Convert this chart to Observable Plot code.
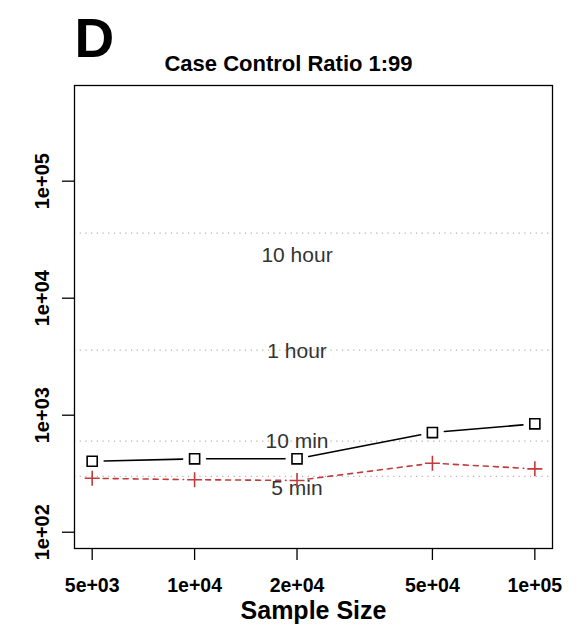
<!DOCTYPE html>
<html>
<head>
<meta charset="utf-8">
<script src="https://cdn.jsdelivr.net/npm/d3@7"></script>
<script src="https://cdn.jsdelivr.net/npm/@observablehq/plot@0.6"></script>
<style>
  html, body { margin: 0; padding: 0; background: #fff; }
  #chart svg { display: block; }
</style>
</head>
<body>
<div id="chart"></div>
<script>
// ---- data ----
const panelLetter = "D";
const title = "Case Control Ratio 1:99";
const xLabel = "Sample Size";
const sampleSize = [5000, 10000, 20000, 50000, 100000];
const seriesSquare = [404, 424, 424, 711, 844];   // black squares, solid line
const seriesPlus = [289, 281, 277, 389, 348];     // red pluses, dashed line
const xTickValues = [5000, 10000, 20000, 50000, 100000];
const xTickLabels = ["5e+03", "1e+04", "2e+04", "5e+04", "1e+05"];
const yTickValues = [1e2, 1e3, 1e4, 1e5];
const yTickLabels = ["1e+02", "1e+03", "1e+04", "1e+05"];
const refTimes = [36000, 3600, 600, 300];
const refLabels = ["10 hour", "1 hour", "10 min", "5 min"];
const refLabelY = [23500, 3500, 600, 236];
const refLabelX = 20000;

// ---- derived tables ----
const pts = (ys) => sampleSize.map((x, i) => ({x, y: ys[i]}));
const segs = (ys) => sampleSize.slice(1).map((x, i) => ({x1: sampleSize[i], y1: ys[i], x2: x, y2: ys[i + 1]}));
const refs = refTimes.map((t, i) => ({t, label: refLabels[i], ly: refLabelY[i]}));
const xLabelMap = new Map(xTickValues.map((v, i) => [v, xTickLabels[i]]));
const yLabelMap = new Map(yTickValues.map((v, i) => [v, yTickLabels[i]]));
const fmt = (m) => (d) => m.get(d) ?? m.get(+(+d).toPrecision(6)) ?? "";

const squareSym = {draw(ctx, size) { const s = Math.sqrt(size / Math.PI) * 0.9; ctx.rect(-s, -s, 2 * s, 2 * s); }};
const plusSym = {draw(ctx, size) { const h = Math.sqrt(size / Math.PI); ctx.moveTo(-h, 0); ctx.lineTo(h, 0); ctx.moveTo(0, -h); ctx.lineTo(0, h); }};

const red = "#c23b3b";
const font = "'Liberation Sans', Arial, Helvetica, sans-serif";

const chart = Plot.plot({
  width: 587,
  height: 628,
  marginLeft: 74,
  marginRight: 35,
  marginTop: 85,
  marginBottom: 80,
  style: {fontFamily: font, background: "#fff", color: "#000"},
  x: {type: "log", domain: [4436, 112700]},
  y: {type: "log", domain: [72.6, 657000]},
  marks: [
    Plot.ruleY(refs, {y: "t", stroke: "#b0b0b0", strokeWidth: 1.2, strokeDasharray: "1.2,4.5"}),
    Plot.text(refs, {x: () => refLabelX, y: "ly", text: "label", fontSize: 21, fill: "#333", lineAnchor: "middle"}),
    Plot.arrow(segs(seriesSquare), {x1: "x1", y1: "y1", x2: "x2", y2: "y2", headLength: 0, insetStart: 12, insetEnd: 12, stroke: "#000", strokeWidth: 1.6}),
    Plot.arrow(segs(seriesPlus), {x1: "x1", y1: "y1", x2: "x2", y2: "y2", headLength: 0, insetStart: 11, insetEnd: 11, stroke: red, strokeWidth: 1.6, strokeDasharray: "5,5"}),
    Plot.dot(pts(seriesSquare), {x: "x", y: "y", symbol: squareSym, r: 5.6, stroke: "#000", strokeWidth: 1.6, fill: "#fff"}),
    Plot.dot(pts(seriesPlus), {x: "x", y: "y", symbol: plusSym, r: 7.5, stroke: red, strokeWidth: 1.6}),
    Plot.frame({stroke: "#000", strokeWidth: 1.3}),
    Plot.axisX({ticks: xTickValues, tickFormat: fmt(xLabelMap), tickSize: 12, tickPadding: 18, fontSize: 19.5, fontWeight: "bold", label: null, stroke: "#000", strokeWidth: 1.3}),
    Plot.axisY({ticks: yTickValues, tickFormat: fmt(yLabelMap), tickSize: 12, tickPadding: 14, tickRotate: -90, fontSize: 20, fontWeight: "bold", label: null, stroke: "#000", strokeWidth: 1.3}),
    Plot.text([title], {frameAnchor: "top", dx: -25, dy: -15, lineAnchor: "bottom", text: d => d, fontSize: 22, fontWeight: "bold"}),
    Plot.text([panelLetter], {frameAnchor: "top-left", dy: -29, lineAnchor: "bottom", textAnchor: "start", text: d => d, fontSize: 55, fontWeight: "bold"}),
    Plot.text([xLabel], {frameAnchor: "bottom", dy: 70, lineAnchor: "bottom", text: d => d, fontSize: 25, fontWeight: "bold"})
  ]
});
document.getElementById("chart").appendChild(chart);
</script>
</body>
</html>
